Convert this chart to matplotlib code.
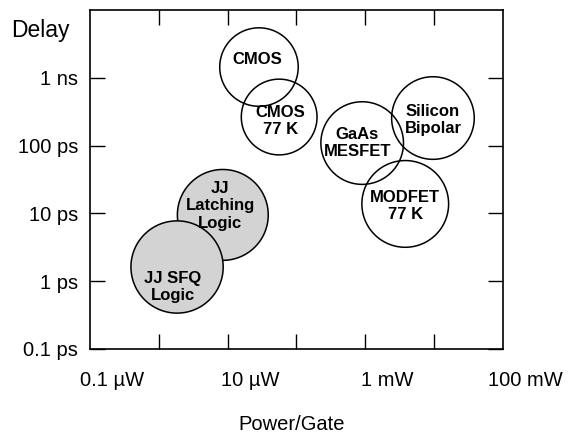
import numpy as np
import matplotlib
matplotlib.use('Agg')
import matplotlib.pyplot as plt
from matplotlib.ticker import NullLocator

plt.rcParams['font.family'] = ['Liberation Sans', 'DejaVu Sans']

# ---- data ----
labels = ['CMOS', 'CMOS\n77 K', 'GaAs\nMESFET', 'Silicon\nBipolar',
          'MODFET\n77 K', 'JJ\nLatching\nLogic', 'JJ SFQ\nLogic']
power_w = [2.85e-5, 5.6e-5, 9.0e-4, 9.6e-3, 3.8e-3, 8.5e-6, 1.84e-6]
delay_s = [1.44e-9, 2.64e-10, 1.09e-10, 2.55e-10, 1.38e-11, 9.5e-12, 1.62e-12]
spread_decades = [0.57, 0.55, 0.60, 0.60, 0.63, 0.66, 0.67]
shaded = [False, False, False, False, False, True, True]

x_tick_values = [1e-7, 1e-5, 1e-3, 1e-1]
x_tick_labels = ['0.1 \u00b5W', '10 \u00b5W', '1 mW', '100 mW']
y_tick_values = [1e-13, 1e-12, 1e-11, 1e-10, 1e-9]
y_tick_labels = ['0.1 ps', '1 ps', '10 ps', '100 ps', '1 ns']

# label offsets (points) relative to circle centre
label_dx = [-1.5, 0.7, -3.6, 0, 0, -2, -3]
label_dy = [5.8, -2.9, 0, -1.4, -1.4, 6.5, -14.4]

fig = plt.figure(figsize=(5.71, 4.43), dpi=100)
ax = fig.add_axes([90/571, 94/443, 413/571, 339/443])
ax.set_xscale('log')
ax.set_yscale('log')
ax.set_xlim(1e-7, 1e-1)
ax.set_ylim(1e-13, 1e-8)

p0 = ax.transData.transform((1e-4, 1e-10))
p1 = ax.transData.transform((1e-3, 1e-9))
kx = p1[0] - p0[0]
ky = p1[1] - p0[1]

t = np.linspace(0, 2*np.pi, 300)
for p, d, r, s in zip(power_w, delay_s, spread_decades, shaded):
    xs = p * 10**(r*np.cos(t))
    ys = d * 10**(r*(kx/ky)*np.sin(t))
    ax.fill(xs, ys, facecolor='#d3d3d3' if s else 'none',
            edgecolor='black', linewidth=1.1, zorder=2)

for lab, p, d, dx, dy in zip(labels, power_w, delay_s, label_dx, label_dy):
    ax.annotate(lab, (p, d), xytext=(dx, dy), textcoords='offset points',
                ha='center', va='center', fontsize=12, fontweight='bold',
                multialignment='center', zorder=5)

ax.set_xticks([1e-6, 1e-5, 1e-4, 1e-3, 1e-2])
ax.xaxis.set_minor_locator(NullLocator())
ax.yaxis.set_minor_locator(NullLocator())
ax.set_yticks(y_tick_values)
ax.set_yticklabels(y_tick_labels)
ax.tick_params(axis='both', which='major', direction='in', length=10.5,
               width=1, top=True, right=True, labelbottom=False,
               labelsize=14.5, pad=8.5)

for v, lab in zip(x_tick_values, x_tick_labels):
    ax.annotate(lab, (v, 0), xycoords=('data', 'axes fraction'),
                xytext=(16, -22.5), textcoords='offset points',
                ha='center', va='center', fontsize=14.5, annotation_clip=False)

for sp in ax.spines.values():
    sp.set_linewidth(1.2)

fig.text(40/571, 1-31/443, 'Delay', fontsize=16.5, ha='center', va='center')
fig.text(292/571, 1-425/443, 'Power/Gate', fontsize=14.5, ha='center', va='center')

fig.savefig('out.png', dpi=100)
